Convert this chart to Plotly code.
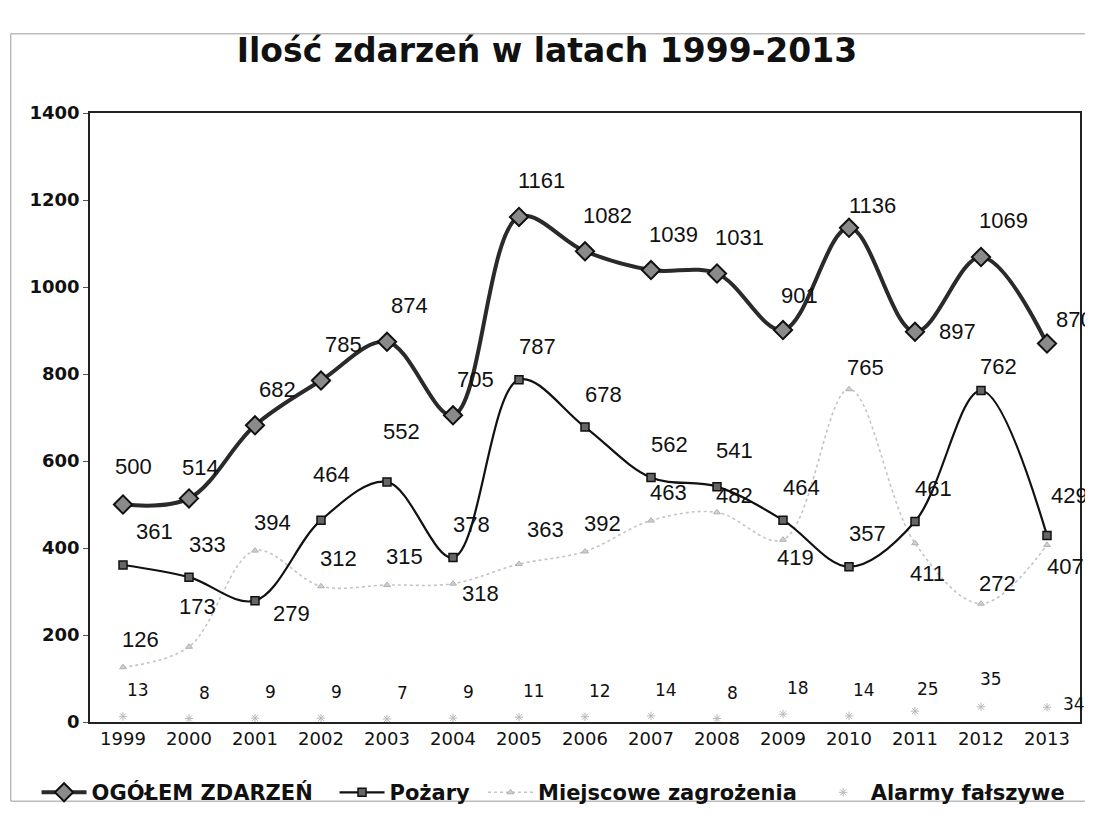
import plotly.graph_objects as go

years = [str(y) for y in range(1999, 2014)]
ogolem = [500, 514, 682, 785, 874, 705, 1161, 1082, 1039, 1031, 901, 1136, 897, 1069, 870]
pozary = [361, 333, 279, 464, 552, 378, 787, 678, 562, 541, 464, 357, 461, 762, 429]
miejscowe = [126, 173, 394, 312, 315, 318, 363, 392, 463, 482, 419, 765, 411, 272, 407]
alarmy = [13, 8, 9, 9, 7, 9, 11, 12, 14, 8, 18, 14, 25, 35, 34]

y_ticks = [0, 200, 400, 600, 800, 1000, 1200, 1400]

# label offsets (pixels) relative to each point: default + per-index overrides
shift_ogolem = {"default": (22, 36), 0: (10, 38), 1: (11, 31), 10: (16, 35), 11: (23, 22), 12: (42, 0), 14: (27, 24)}
shift_pozary = {"default": (18, 33), 0: (31, 33), 2: (36, -13), 3: (10, 46), 4: (14, 50), 9: (17, 36), 13: (17, 24), 14: (22, 40)}
shift_miejscowe = {"default": (17, 28), 1: (8, 40), 5: (27, -10), 6: (26, 35), 9: (17, 17), 10: (12, -18), 11: (16, 22),
                   12: (12, -30), 13: (16, 20), 14: (18, -22)}
shift_alarmy = {"default": (15, 26), 13: (10, 28), 14: (27, 3), 12: (13, 22)}

lab_font = dict(family="Liberation Sans, Arial, sans-serif", size=22, color="#111")
alarm_font = dict(family="DejaVu Sans, Verdana, sans-serif", size=17, color="#111")
leg_font = dict(family="DejaVu Sans, Verdana, sans-serif", size=21, color="#111", weight="bold")

fig = go.Figure()

fig.add_trace(go.Scatter(
    x=years, y=miejscowe, name="Miejscowe zagrożenia", legend="legend3",
    mode="lines+markers",
    line=dict(color="#c4c4c4", width=1.6, dash="dot", shape="spline", smoothing=1),
    marker=dict(symbol="triangle-up", size=6, color="#d0d0d0", line=dict(color="#b0b0b0", width=1)),
    cliponaxis=False,
))

fig.add_trace(go.Scatter(
    x=years, y=alarmy, name="Alarmy fałszywe", legend="legend4",
    mode="markers",
    marker=dict(symbol="asterisk-open", size=7, color="#b8b8b8", line=dict(color="#b0b0b0", width=1)),
    cliponaxis=False,
))

fig.add_trace(go.Scatter(
    x=years, y=pozary, name="Pożary", legend="legend2",
    mode="lines+markers",
    line=dict(color="#111", width=2.2, shape="spline", smoothing=1),
    marker=dict(symbol="square", size=8, color="#666", line=dict(color="#111", width=1.5)),
    cliponaxis=False,
))

fig.add_trace(go.Scatter(
    x=years, y=ogolem, name="OGÓŁEM ZDARZEŃ", legend="legend",
    mode="lines+markers",
    line=dict(color="#2a2a2a", width=4, shape="spline", smoothing=1),
    marker=dict(symbol="diamond", size=14, color="#8a8a8a", line=dict(color="#111", width=2)),
    cliponaxis=False,
))


def add_labels(values, shifts, font):
    # x given as category index on the category axis
    for i, v in enumerate(values):
        dx, dy = shifts.get(i, shifts["default"])
        fig.add_annotation(x=i, y=v, xref="x", yref="y", text=str(v), showarrow=False,
                           xshift=dx, yshift=dy, font=font, xanchor="center", yanchor="middle")


add_labels(ogolem, shift_ogolem, lab_font)
add_labels(pozary, shift_pozary, lab_font)
add_labels(miejscowe, shift_miejscowe, lab_font)
add_labels(alarmy, shift_alarmy, alarm_font)


def legend_at(xpaper):
    return dict(orientation="h", x=xpaper, xanchor="left", y=-0.116, yanchor="middle",
                font=leg_font, itemwidth=45, bgcolor="rgba(0,0,0,0)")


fig.update_layout(
    width=1085, height=817,
    margin=dict(l=82, r=13, t=105, b=84),
    paper_bgcolor="white", plot_bgcolor="white",
    title=dict(text="<b>Ilość zdarzeń w latach 1999-2013</b>", x=(547 - 8) / 1085, xanchor="center",
               y=1 - 42 / 817, yanchor="middle",
               font=dict(family="DejaVu Sans, Verdana, sans-serif", size=33, color="#111")),
    showlegend=True,
    legend=legend_at(-0.054),
    legend2=legend_at(0.247),
    legend3=legend_at(0.397),
    legend4=legend_at(0.733),
    xaxis=dict(type="category", categoryorder="array", categoryarray=years, automargin=False,
               range=[-0.5, len(years) - 0.5],
               showgrid=False, showline=True, linecolor="#222", linewidth=1.5, mirror=True,
               ticks="", tickfont=dict(family="DejaVu Sans, Verdana, sans-serif", size=18, color="#111"),
               ticklabelstandoff=0),
    yaxis=dict(range=[0, 1400], tickvals=y_ticks, ticktext=[str(t) for t in y_ticks], automargin=False,
               showgrid=False, zeroline=False, showline=True, linecolor="#222", linewidth=1.5, mirror=True,
               ticks="outside", ticklen=5, tickcolor="#555",
               tickfont=dict(family="DejaVu Sans, Verdana, sans-serif", size=18, color="#111", weight="bold")),
)

# light outer frame of the chart area
fig.add_shape(type="rect", xref="paper", yref="paper",
              x0=-0.08, x1=1.02, y0=-0.13, y1=1.13,
              line=dict(color="#9a9a9a", width=1), fillcolor="rgba(0,0,0,0)", layer="below")

fig.write_html("out.html")
